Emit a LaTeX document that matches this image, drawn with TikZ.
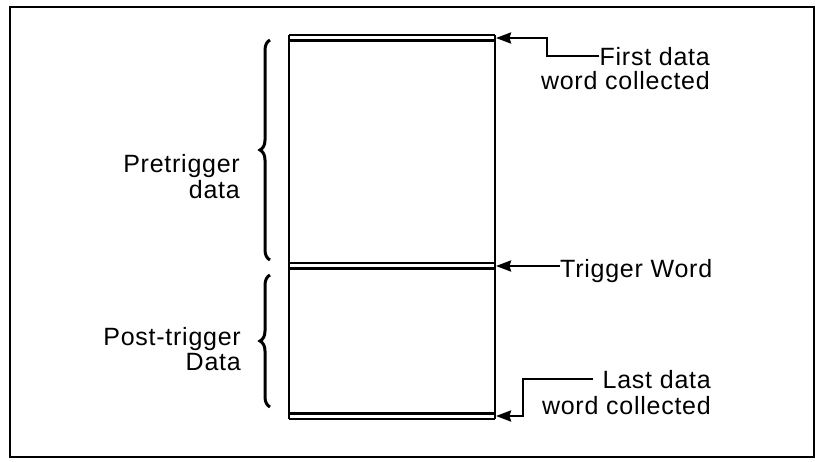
\documentclass[tikz,border=0pt]{standalone}
\usepackage{fontspec}
\setmainfont{Liberation Sans}[LetterSpace=3]
\usetikzlibrary{arrows.meta,decorations.pathreplacing}
\begin{document}
\begin{tikzpicture}[x=1pt,y=-1pt,
  lbl/.style={font=\fontsize{25}{26}\selectfont, inner sep=0pt},
  conn/.style={line width=2.4pt, -{Stealth[length=15pt,width=11pt,inset=1.5pt]}},
  brc/.style={decorate, decoration={brace,amplitude=10pt}, line width=3pt},
  dbl/.style={line width=2.2pt},
  side/.style={line width=1.8pt}]
\useasboundingbox (0,0) rectangle (820,461);
% outer frame
\draw[line width=2.8pt] (10,7) rectangle (814,457);
% memory box sides
\draw[side] (289,35) -- (289,419);
\draw[side] (495,35) -- (495,419);
% double lines
\draw[dbl] (289,35) -- (495,35);
\draw[dbl] (289,40.5) -- (495,40.5);
\draw[dbl] (289,263) -- (495,263);
\draw[dbl] (289,268.5) -- (495,268.5);
\draw[dbl] (289,413.5) -- (495,413.5);
\draw[dbl] (289,419) -- (495,419);
% arrow targets
\coordinate (firstw) at (496,38);
\coordinate (trigw) at (496,266);
\coordinate (lastw) at (496,416);
\coordinate (bendA) at (547,0);
\coordinate (bendB) at (523,0);
% braces
\draw[brc] (270,260) -- (270,40);
\draw[brc] (270,407) -- (270,275);
% left labels
\node[lbl, anchor=base east] (pre1) at (240,172) {Pretrigger};
\node[lbl, anchor=base east] (pre2) at (240,198) {data};
\node[lbl, anchor=base east] (post1) at (241,345) {Post-trigger};
\node[lbl, anchor=base east] (post2) at (241,370) {Data};
% right labels
\node[lbl, anchor=base east] (first1) at (710,65) {First data};
\node[lbl, anchor=base east] (first2) at (710,89) {word collected};
\node[lbl, anchor=base west] (trig) at (560,277) {Trigger Word};
\node[lbl, anchor=base east] (last1) at (711,388) {Last data};
\node[lbl, anchor=base east] (last2) at (711,414) {word collected};
% connectors
\draw[conn] (first1.west) -- (first1.west -| bendA) |- (firstw);
\draw[conn] (trig.west |- trigw) -- (trigw);
\draw[conn] ([xshift=-9pt]last1.west) -- (last1.west -| bendB) |- (lastw);
\end{tikzpicture}
\end{document}
